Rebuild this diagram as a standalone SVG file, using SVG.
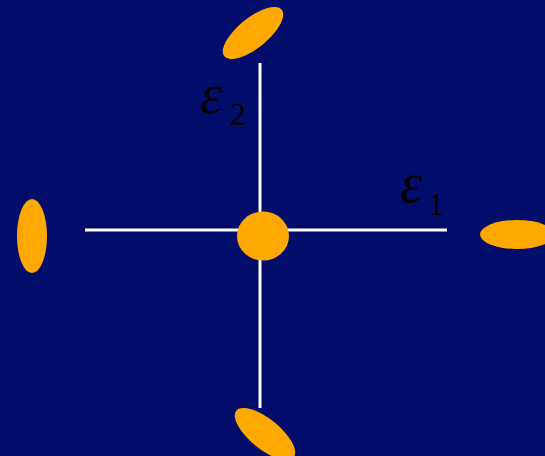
<svg xmlns="http://www.w3.org/2000/svg" width="545" height="456" viewBox="0 0 545 456">
<style>
.blob{fill:#FFA800}
.axis{stroke:#FFFFFF;stroke-width:3;fill:none}
.eps{font-family:"Liberation Serif","DejaVu Serif",serif;font-style:italic;font-size:56px;fill:#000000}
.sub{font-family:"Liberation Serif","DejaVu Serif",serif;font-size:32px;fill:#000000}
</style>
<rect x="0" y="0" width="545" height="456" fill="#020C6A"/>
<g id="connectors">
<line class="axis" x1="85" y1="230" x2="447" y2="230"/>
<line class="axis" x1="260" y1="63" x2="260" y2="408"/>
</g>
<g id="center"><ellipse class="blob" cx="263" cy="236" rx="26" ry="24.5"/></g>
<g id="top"><ellipse class="blob" cx="253" cy="33" rx="37" ry="15" transform="rotate(-39 253 33)"/></g>
<g id="bottom"><ellipse class="blob" cx="265" cy="434" rx="37" ry="15" transform="rotate(39 265 434)"/></g>
<g id="left"><ellipse class="blob" cx="32" cy="236" rx="15" ry="37"/></g>
<g id="right"><ellipse class="blob" cx="517" cy="234.5" rx="37" ry="14.5"/></g>
<g id="label-e2"><text class="eps" x="200" y="113">ε</text><text class="sub" x="230" y="125">2</text></g>
<g id="label-e1"><text class="eps" x="400" y="202">ε</text><text class="sub" x="428" y="215">1</text></g>
</svg>
